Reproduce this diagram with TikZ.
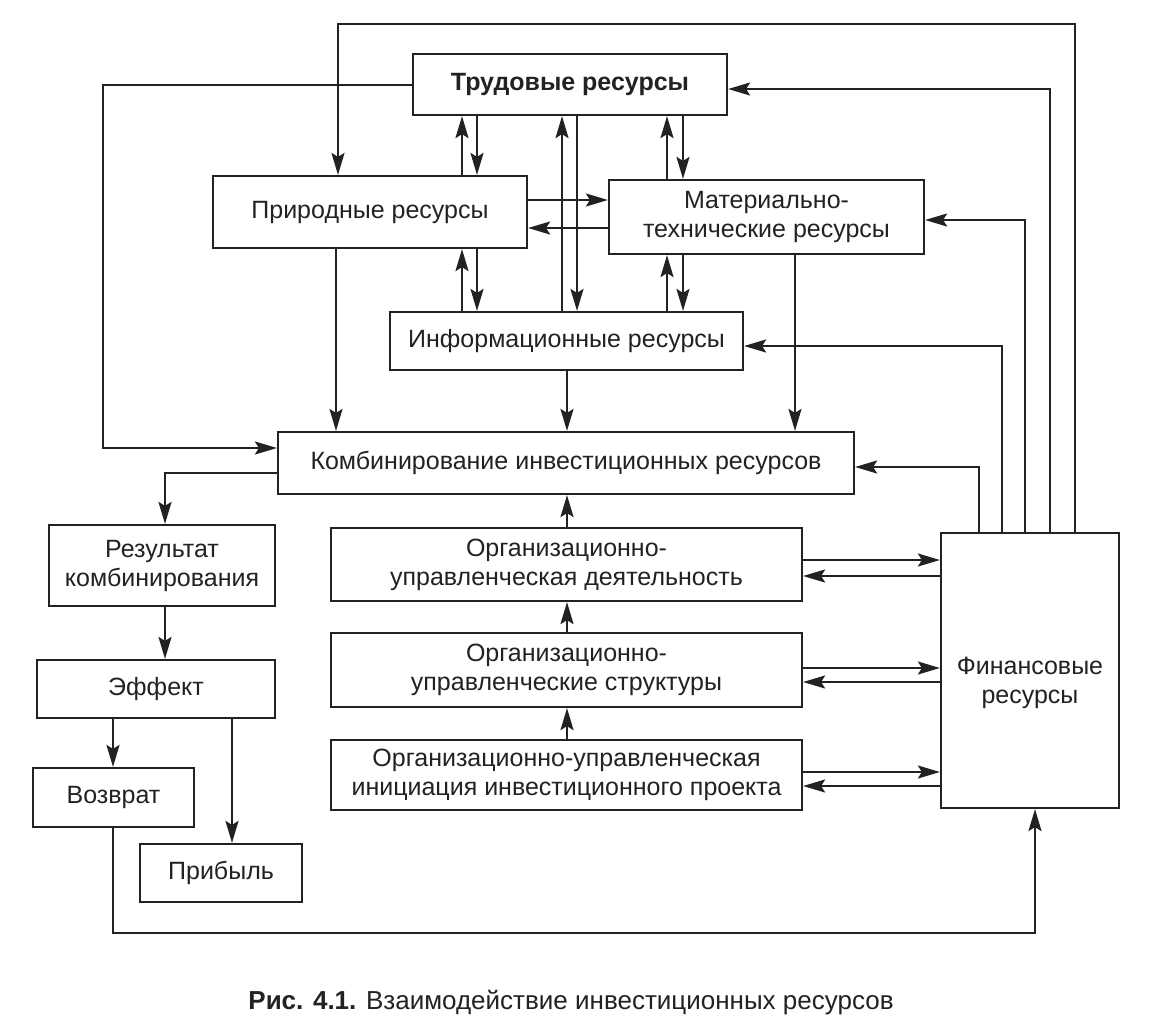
\documentclass[tikz,border=0pt]{standalone}
\usepackage{fontspec}
\setmainfont{Liberation Sans}
\usetikzlibrary{arrows.meta}
\definecolor{ink}{HTML}{222222}
\newcommand\dfs{\fontsize{25}{29}\selectfont}
\newcommand\cfs{\fontsize{26}{30}\selectfont}
\begin{document}
\begin{tikzpicture}[x=1pt,y=-1pt,
  box/.style={draw=ink, line width=2.2pt, inner sep=0pt, align=center, font=\dfs, text=ink},
  arr/.style={draw=ink, line width=2.2pt, -{Stealth[length=22pt,width=13pt,inset=4pt]}},
  lbl/.style={font=\dfs, align=center, text=ink, inner sep=0pt}
]
\fill[white] (0,0) rectangle (1165,1021);
\useasboundingbox (0,0) rectangle (1165,1021);

% boxes
\node[box, minimum width=314pt, minimum height=61pt] (trud) at (570,84.5) {\bfseries Трудовые ресурсы};
\node[box, minimum width=314pt, minimum height=72pt] (prir) at (370,212) {Природные ресурсы};
\node[box, minimum width=315pt, minimum height=74pt] (mat) at (766.5,217) {Материально-\\технические ресурсы};
\node[box, minimum width=353pt, minimum height=58pt] (inf) at (566.5,341) {Информационные ресурсы};
\node[box, minimum width=576pt, minimum height=62pt] (komb) at (566,463) {Комбинирование инвестиционных ресурсов};
\node[box, minimum width=226pt, minimum height=81pt] (res) at (162,565.5) {Результат\\комбинирования};
\node[box, minimum width=471pt, minimum height=73pt] (deyat) at (566.5,564.5) {Организационно-\\управленческая деятельность};
\node[box, minimum width=471pt, minimum height=74pt] (strukt) at (566.5,670) {Организационно-\\управленческие структуры};
\node[box, minimum width=471pt, minimum height=70pt] (init) at (566.5,775) {Организационно-управленческая\\инициация инвестиционного проекта};
\node[box, minimum width=178pt, minimum height=275pt] (fin) at (1030,670.5) {};
\node[lbl] (fint) at (1030,683) {Финансовые\\ресурсы};
\node[box, minimum width=238pt, minimum height=58pt] (eff) at (156,689) {Эффект};
\node[box, minimum width=161pt, minimum height=59pt] (vozv) at (113.5,797.5) {Возврат};
\node[box, minimum width=162pt, minimum height=58pt] (prib) at (221,873) {Прибыль};

\node[lbl, font=\cfs] (cap) at (571,1003) {\textbf{Рис. 4.1.} Взаимодействие инвестиционных ресурсов};

% columns and rows
\coordinate (cA) at (462,0);
\coordinate (cB) at (477,0);
\coordinate (cC) at (562,0);
\coordinate (cD) at (577,0);
\coordinate (cE) at (667,0);
\coordinate (cF) at (683,0);
\coordinate (cG) at (336,0);
\coordinate (cH) at (567,0);
\coordinate (cI) at (795,0);
\coordinate (rA) at (0,200);
\coordinate (rB) at (0,228);
\coordinate (f1) at (0,560);
\coordinate (f2) at (0,576);
\coordinate (f3) at (0,668);
\coordinate (f4) at (0,682);
\coordinate (f5) at (0,772);
\coordinate (f6) at (0,786);

% resource interconnections
\draw[arr] (cA |- prir.north) -- (cA |- trud.south);
\draw[arr] (cB |- trud.south) -- (cB |- prir.north);
\draw[arr] (cA |- inf.north) -- (cA |- prir.south);
\draw[arr] (cB |- prir.south) -- (cB |- inf.north);
\draw[arr] (cC |- inf.north) -- (cC |- trud.south);
\draw[arr] (cD |- trud.south) -- (cD |- inf.north);
\draw[arr] (cE |- mat.north) -- (cE |- trud.south);
\draw[arr] (cF |- trud.south) -- (cF |- mat.north);
\draw[arr] (cE |- inf.north) -- (cE |- mat.south);
\draw[arr] (cF |- mat.south) -- (cF |- inf.north);
\draw[arr] (rA -| prir.east) -- (rA -| mat.west);
\draw[arr] (rB -| mat.west) -- (rB -| prir.east);

% into combination
\draw[arr] (cG |- prir.south) -- (cG |- komb.north);
\draw[arr] (cH |- inf.south) -- (cH |- komb.north);
\draw[arr] (cI |- mat.south) -- (cI |- komb.north);
\draw[arr] (cH |- deyat.north) -- (cH |- komb.south);
\draw[arr] (cH |- strukt.north) -- (cH |- deyat.south);
\draw[arr] (cH |- init.north) -- (cH |- strukt.south);

% organisational <-> finance
\draw[arr] (f1 -| deyat.east) -- (f1 -| fin.west);
\draw[arr] (f2 -| fin.west) -- (f2 -| deyat.east);
\draw[arr] (f3 -| strukt.east) -- (f3 -| fin.west);
\draw[arr] (f4 -| fin.west) -- (f4 -| strukt.east);
\draw[arr] (f5 -| init.east) -- (f5 -| fin.west);
\draw[arr] (f6 -| fin.west) -- (f6 -| init.east);

% finance feedback lines
\coordinate (v1) at (1075,24);
\coordinate (v0) at (338,24);
\draw[arr] (v1 |- fin.north) -- (v1) -- (v0) -- (v0 |- prir.north);
\coordinate (v2) at (1050,89);
\draw[arr] (v2 |- fin.north) -- (v2) -- (v2 -| trud.east);
\coordinate (v3) at (1025,220);
\draw[arr] (v3 |- fin.north) -- (v3) -- (v3 -| mat.east);
\coordinate (v4) at (1002,346);
\draw[arr] (v4 |- fin.north) -- (v4) -- (v4 -| inf.east);
\coordinate (v5) at (979,467);
\draw[arr] (v5 |- fin.north) -- (v5) -- (v5 -| komb.east);

% labour -> combination (left loop)
\coordinate (l1) at (103,85);
\coordinate (l2) at (103,448);
\draw[arr] (l1 -| trud.west) -- (l1) -- (l2) -- (l2 -| komb.west);

% result chain
\coordinate (k1) at (165,473);
\draw[arr] (k1 -| komb.west) -- (k1) -- (k1 |- res.north);
\draw[arr] (k1 |- res.south) -- (k1 |- eff.north);
\coordinate (e1) at (113,0);
\coordinate (e2) at (232,0);
\draw[arr] (e1 |- eff.south) -- (e1 |- vozv.north);
\draw[arr] (e2 |- eff.south) -- (e2 |- prib.north);
\coordinate (b1) at (113,933);
\coordinate (b2) at (1035,933);
\draw[arr] (b1 |- vozv.south) -- (b1) -- (b2) -- (b2 |- fin.south);
\end{tikzpicture}
\end{document}
